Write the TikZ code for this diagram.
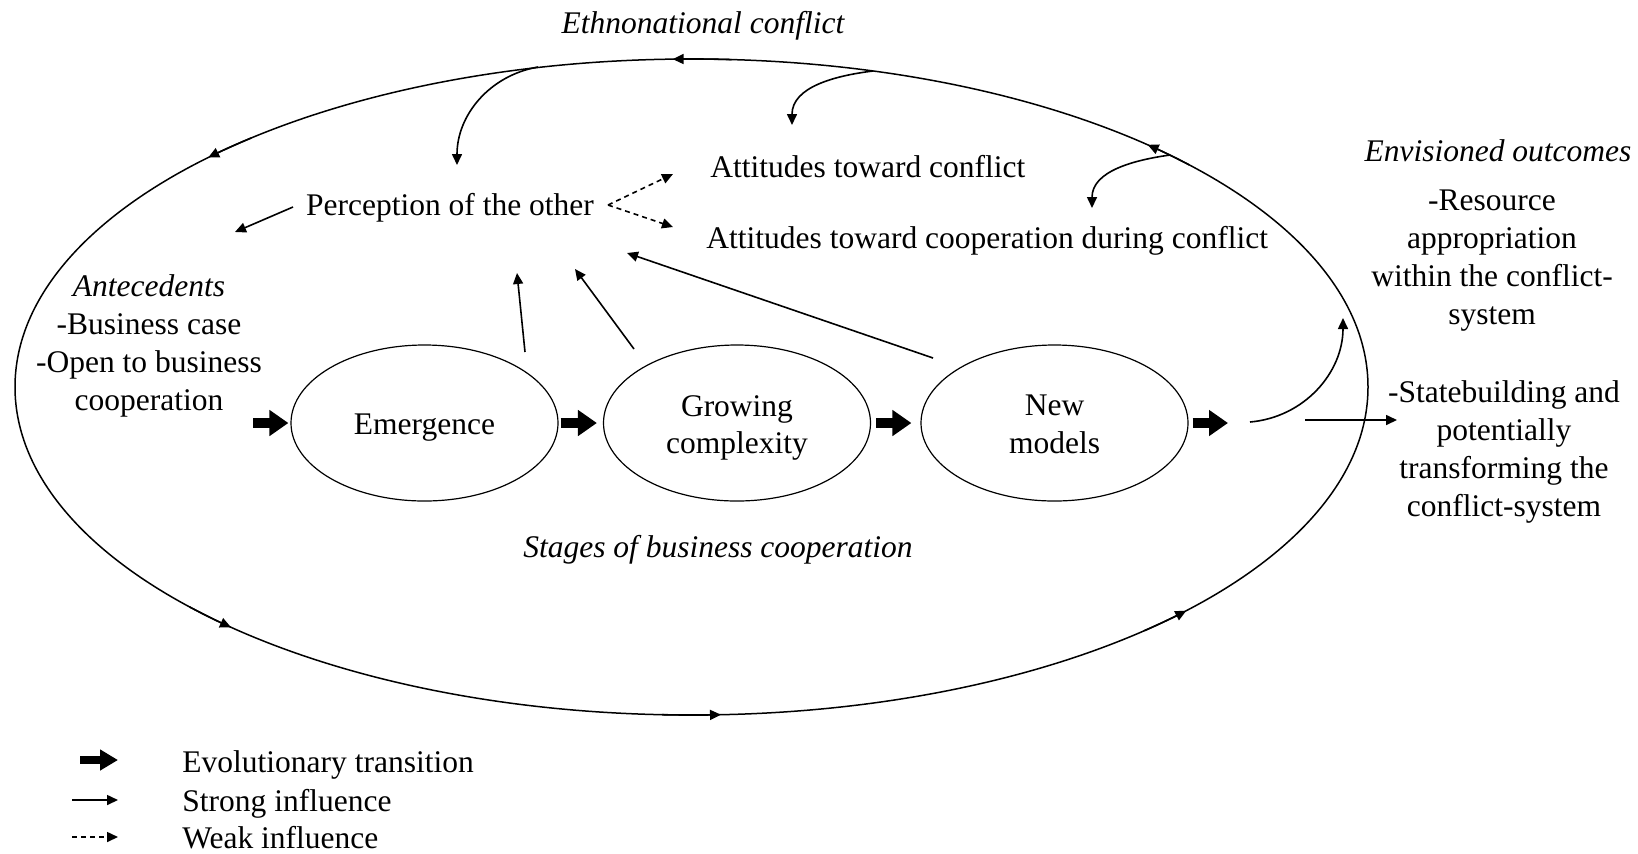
\documentclass[tikz,border=0pt]{standalone}
\usepackage{fontspec}
\setmainfont{Liberation Serif}[Ligatures=NoCommon]
\usetikzlibrary{arrows.meta,shapes.geometric}
\begin{document}
\begin{tikzpicture}[x=0.5pt,y=0.5pt,
  txt/.style={inner sep=0pt, font=\fontsize{15.75pt}{18.9pt}\selectfont},
  ittxt/.style={inner sep=0pt, font=\fontsize{15.75pt}{18.9pt}\selectfont\itshape},
  multi/.style={txt, align=center},
  stage/.style={draw, ellipse, line width=0.6pt, minimum width=133.5pt, minimum height=78pt, inner sep=0pt},
  thinline/.style={line width=0.75pt},
  strong/.style={line width=0.8pt, -{Triangle[length=5.5pt,width=5pt]}},
  weak/.style={strong, dash pattern=on 2.5pt off 2pt},
  block/.style={line width=5pt, -{Triangle[length=9.5pt,width=12.5pt]}},
  legblock/.style={line width=4pt, -{Triangle[length=9pt,width=10pt]}}
]
\useasboundingbox (0,0) rectangle (1638,-853);

% outer cycle
\draw[thinline] (691.5,-387) ellipse [x radius=676.5, y radius=328];
\foreach \t in {47.6,91.6,135.6,227.1,272.5,317}{
  \draw[strong] (691.5,-387) ++(\t-5:676.5 and 328) arc[start angle=\t-5, end angle=\t, x radius=676.5, y radius=328];
}

% texts
\node[ittxt, anchor=base] (ethno) at (703,-33) {Ethnonational conflict};
\node[txt, anchor=base] (perc) at (450,-215) {Perception of the other};
\node[txt, anchor=base west] (attc) at (710,-177) {Attitudes toward conflict};
\node[txt, anchor=base west] (attco) at (706,-248) {Attitudes toward cooperation during conflict};
\node[ittxt, anchor=base] (envis) at (1498,-161) {Envisioned outcomes};
\node[multi, anchor=base] (res) at (1492,-324) {-Resource\\appropriation\\within the conflict-\\system};
\node[multi, anchor=base] (state) at (1504,-516) {-Statebuilding and\\potentially\\transforming the\\conflict-system};
\node[multi, anchor=base] (ante) at (149,-410) {\textit{Antecedents}\\-Business case\\-Open to business\\cooperation};
\node[ittxt, anchor=base] (stages) at (718,-557) {Stages of business cooperation};

% stages
\node[stage] (em) at (424.5,-423) {};
\node[stage] (gc) at (737,-423) {};
\node[stage] (nm) at (1054.5,-423) {};
\node[multi] (emt) at ([yshift=-2.5pt]em.center) {Emergence};
\node[multi] (gct) at ([yshift=-2.5pt]gc.center) {Growing\\complexity};
\node[multi] (nmt) at ([yshift=-0.7pt]nm.center) {New\\models};

% coordinates
\coordinate (b0) at (253,-423);
\coordinate (b4) at (1228,-423);
\coordinate (s1) at (525,-352); \coordinate (t1) at (517,-273);
\coordinate (s2) at (634,-349); \coordinate (t2) at (575,-269);
\coordinate (s3) at (933,-358); \coordinate (t3) at (627,-253);
\coordinate (p0) at (293,-207); \coordinate (p1) at (235,-232);
\coordinate (d0) at (608,-205); \coordinate (d1) at (673,-174); \coordinate (d2) at (673,-227);
\coordinate (c1s) at (538,-67);  \coordinate (c1e) at (457,-165);
\coordinate (c2s) at (873,-71);  \coordinate (c2e) at (792,-125);
\coordinate (c3s) at (1170,-155); \coordinate (c3e) at (1092,-208);
\coordinate (c4s) at (1250,-422); \coordinate (c4e) at (1343,-318);
\coordinate (o1) at (1305,-420); \coordinate (o2) at (1397,-420);

% evolutionary transitions
\draw[block] (b0) -- ([xshift=-1pt]em.west);
\draw[block] ([xshift=1pt]em.east) -- ([xshift=-3pt]gc.west);
\draw[block] ([xshift=2.5pt]gc.east) -- ([xshift=-4.5pt]nm.west);
\draw[block] ([xshift=2pt]nm.east) -- (b4);

% influences
\draw[strong] (s1) -- (t1);
\draw[strong] (s2) -- (t2);
\draw[strong] (s3) -- (t3);
\draw[strong] (p0) -- (p1);
\draw[weak] (d0) -- (d1);
\draw[weak] (d0) -- (d2);
\draw[strong] (c1s) to[out=190,in=90] (c1e);
\draw[strong] (c2s) to[out=187,in=90] (c2e);
\draw[strong] (c3s) to[out=188,in=90] (c3e);
\draw[strong] (c4s) to[out=5,in=-90] (c4e);
\draw[strong] (o1) -- (o2);

% legend
\coordinate (la1) at (80,-760);  \coordinate (lb1) at (118,-760);
\coordinate (la2) at (72,-800);  \coordinate (lb2) at (118,-800);
\coordinate (la3) at (72,-837);  \coordinate (lb3) at (118,-837);
\draw[legblock] (la1) -- (lb1);
\draw[strong] (la2) -- (lb2);
\draw[weak] (la3) -- (lb3);
\node[txt, anchor=base west] (leg1) at (182,-772) {Evolutionary transition};
\node[txt, anchor=base west] (leg2) at (182,-811) {Strong influence};
\node[txt, anchor=base west] (leg3) at (182,-848) {Weak influence};
\end{tikzpicture}
\end{document}
